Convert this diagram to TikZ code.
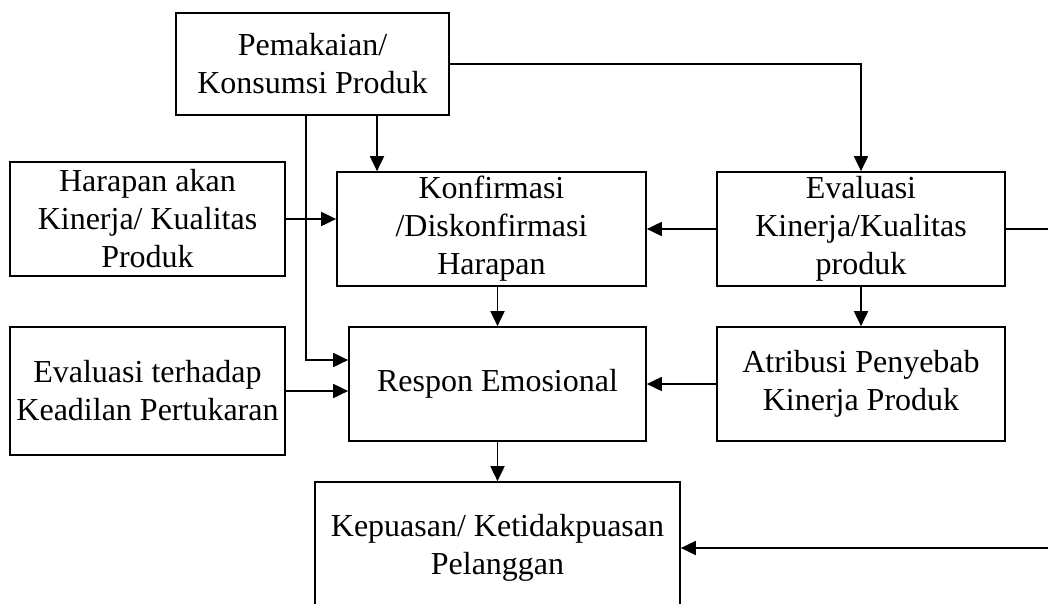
\documentclass[tikz,border=0pt]{standalone}
\usepackage{fontspec}
\setmainfont{Liberation Serif}
\usetikzlibrary{arrows.meta}
\begin{document}
\begin{tikzpicture}[x=1pt,y=-1pt,
  box/.style={draw,line width=1.7pt,align=center,inner sep=0pt,
    font=\fontsize{32}{38}\selectfont},
  arr/.style={line width=1.8pt,-{Triangle[length=15pt,width=14pt]}}]
\clip (0,0) rectangle (1048,603);
\fill[white] (0,0) rectangle (1048,603);
\node[box,minimum width=273pt,minimum height=102pt] (pem) at (312.5,64) {Pemakaian/\\Konsumsi Produk};
\node[box,minimum width=275pt,minimum height=114pt] (har) at (147.5,219) {Harapan akan\\Kinerja/ Kualitas\\Produk};
\node[box,minimum width=309pt,minimum height=114pt] (kon) at (491.5,229) {Konfirmasi\\/Diskonfirmasi\\Harapan};
\node[box,minimum width=288pt,minimum height=114pt] (evk) at (861,229) {Evaluasi\\Kinerja/Kualitas\\produk};
\node[box,minimum width=297pt,minimum height=114pt] (res) at (497.5,384) {Respon Emosional};
\node[box,minimum width=275pt,minimum height=128pt] (evt) at (147.5,391) {Evaluasi terhadap\\Keadilan Pertukaran};
\node[box,minimum width=288pt,minimum height=114pt] (atr) at (861,384) {Atribusi Penyebab\\Kinerja Produk};
\node[box,minimum width=365pt,minimum height=132pt] (kep) at (497.5,548) {Kepuasan/ Ketidakpuasan\\Pelanggan};
\coordinate (x377) at (377,0);
\coordinate (x306) at (306,0);
\coordinate (y360) at (0,360);
\draw[arr] (pem.east) -| (evk.north);
\draw[arr] (pem.south -| x377) -- (kon.north -| x377);
\draw[arr] (pem.south -| x306) |- (res.west |- y360);
\draw[arr] (har.east) -- (har.east -| kon.west);
\draw[arr] (kon.south -| res.north) -- (res.north);
\draw[arr] (evk.west) -- (kon.east);
\draw[arr] (evk.south) -- (atr.north);
\draw[arr] (evt.east) -- (evt.east -| res.west);
\draw[arr] (atr.west) -- (res.east);
\draw[arr] (res.south) -- (kep.north);
\draw[arr] (evk.east) -- ++(55,0) |- (kep.east);
\end{tikzpicture}
\end{document}
